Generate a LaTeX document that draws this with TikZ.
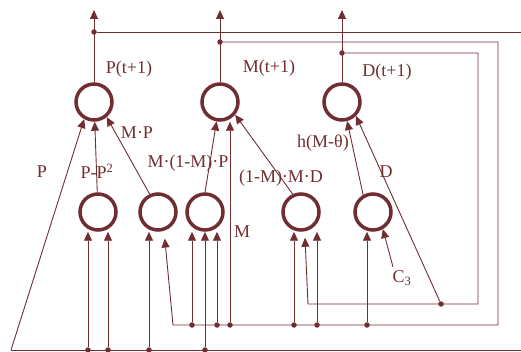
\documentclass[tikz,border=0pt]{standalone}
\usepackage{fontspec}
\setmainfont{Liberation Serif}
\usetikzlibrary{arrows.meta}
\usepackage{xcolor}
\definecolor{wineRed}{RGB}{112, 46, 50}

\begin{document}
\begin{tikzpicture}
    [
        x=1pt, y=-1pt,
        wineRed, line width=0.9pt,
        cell/.style={
            draw, circle, minimum size=36pt, line width=3.5pt,
            inner sep=0pt
        },
        feed/.style={-{Triangle[length=9pt, width=8pt]}},
        tap/.style={fill, circle, minimum size=5.5pt, inner sep=0pt},
        term/.style={font=\fontsize{18}{21}\selectfont, inner sep=0pt}
    ]

\useasboundingbox (0,0) rectangle (521,352);

% Cells
\node (p-next) [cell] at (94,102) {};
\node (m-next) [cell] at (220,102) {};
\node (d-next) [cell] at (342,102) {};

\node (p-sq) [cell] at (98,212) {};
\node (m-p) [cell] at (158,212) {};
\node (m-m-p) [cell] at (205,212) {};
\node (m-m-d) [cell] at (301,212) {};
\node (h-m) [cell] at (373,212) {};

% Outputs
\coordinate (p-out) at (94,10);
\coordinate (m-out) at (220,10);
\coordinate (d-out) at (342,10);
\node (p-tap) [tap] at (94,32) {};
\node (m-tap) [tap] at (220,42) {};
\node (d-tap) [tap] at (342,53) {};
\draw [feed] (p-next) -- (p-out);
\draw [feed] (m-next) -- (m-out);
\draw [feed] (d-next) -- (d-out);

% Buses
\coordinate (p-far) at (521,32);
\coordinate (p-low) at (11,350);
\coordinate (p-low-far) at (521,350);
\coordinate (m-corner) at (498,325);
\coordinate (m-end) at (173,325);
\coordinate (d-corner) at (478,304);
\coordinate (d-end) at (308,304);
\draw (p-tap) -- (p-far);
\draw (p-low) -- (p-low-far);
\draw [feed] (m-tap) -| (m-corner) -- (m-end) -- ([yshift=-8pt]m-p.290);
\draw [feed] (d-tap) -| (d-corner) -- (d-end)
    -- ([xshift=4pt, yshift=-6pt]m-m-d.south);

% Taps on the P line
\node (p-a) [tap] at (88,350) {};
\node (p-b) [tap] at (108,350) {};
\node (p-c) [tap] at (149,350) {};
\node (p-d) [tap] at (205,350) {};
\draw [feed] (p-a) -- (p-a |- p-sq.south);
\draw [feed] (p-b) -- (p-b |- p-sq.south);
\draw [feed] (p-c) -- (p-c |- m-p.south);
\draw [feed] (p-d) -- (p-d |- m-m-p.south);

% Taps on the M line
\node (m-a) [tap] at (192,325) {};
\node (m-b) [tap] at (217,325) {};
\node (m-c) [tap] at (230,325) {};
\node (m-d) [tap] at (294,325) {};
\node (m-e) [tap] at (317,325) {};
\node (m-f) [tap] at (367,325) {};
\draw [feed] (m-a) -- (m-a |- m-m-p.south);
\draw [feed] (m-b) -- (m-b |- m-m-p.south);
\draw [feed] (m-c) -- (m-c |- m-next.south);
\draw [feed] (m-d) -- (m-d |- m-m-d.south);
\draw [feed] (m-e) -- (m-e |- m-m-d.south);
\draw [feed] (m-f) -- (m-f |- h-m.south);

% Tap on the D line
\node (d-a) [tap] at (441,304) {};
\coordinate (c-three) at (393,267);

% Terms into the cells
\draw [feed] (p-low) -- (p-next.240);
\draw [feed] (p-sq) -- (p-next);
\draw [feed] (m-p.115) -- (p-next.310);
\draw [feed] (m-m-p.north) -- (m-next.260);
\draw [feed] (m-m-d.115) -- (m-next.320);
\draw [feed] (h-m.120) -- (d-next.285);
\draw [feed] (d-a) -- (d-next.315);
\draw [feed] (c-three) -- (h-m.300);

% Labels
\node (p-next-text) [term] at (129,69) {P(t+1)};
\node (m-next-text) [term] at (269,68) {M(t+1)};
\node (d-next-text) [term] at (387,72) {D(t+1)};
\node (p-text) [term] at (42,172) {P};
\node (p-sq-text) [term] at (97,171) {P-P\textsuperscript{2}};
\node (m-p-text) [term] at (137,133) {M·P};
\node (m-m-p-text) [term] at (188,163) {M·(1-M)·P};
\node (m-m-d-text) [term] at (281,178) {(1-M)·M·D};
\node (m-text) [term] at (242,232) {M};
\node (h-m-text) [term] at (323,143) {h(M-θ)};
\node (d-text) [term] at (386,172) {D};
\node (c-three-text) [term] at (402,278) {C\textsubscript{3}};

\end{tikzpicture}
\end{document}
